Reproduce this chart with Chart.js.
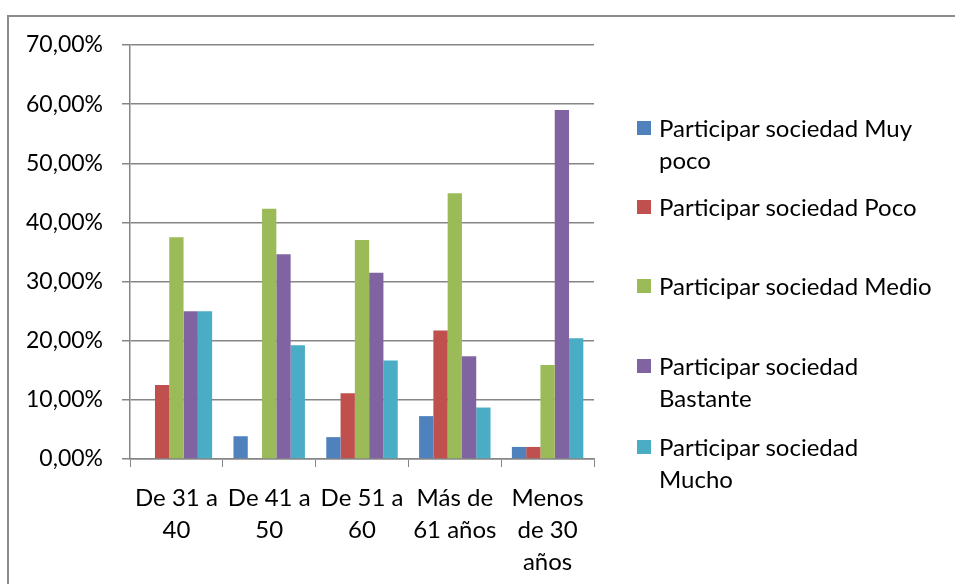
<!DOCTYPE html>
<html>
<head>
<meta charset="utf-8">
<script src="https://cdn.jsdelivr.net/npm/chart.js@4"></script>
<style>
  body { margin: 0; background: #fff; }
  #wrap { position: relative; width: 955px; height: 584px; overflow: hidden; font-family: Lato, sans-serif; }
  #frame { position: absolute; left: 7px; top: 15px; width: 1000px; height: 1000px;
           border-left: 2px solid #8c8c8c; border-top: 2px solid #8c8c8c; }
  canvas { position: absolute; left: 0; top: 0; }
  .leg { position: absolute; left: 637px; font-size: 24px; line-height: 32px; color: #000; }
  .leg i { position: absolute; left: 0; top: 9px; width: 14px; height: 14px; }
  .leg span { display: block; margin-left: 22px; white-space: nowrap; }
</style>
</head>
<body>
<div id="wrap">
  <div id="frame"></div>
  <canvas id="bar-chart" width="955" height="584"></canvas>
  <div id="legend"></div>
</div>
<script>
const categories = [['De 31 a', '40'], ['De 41 a', '50'], ['De 51 a', '60'], ['Más de', '61 años'], ['Menos', 'de 30', 'años']];
const seriesNames = ['Participar sociedad Muy poco', 'Participar sociedad Poco', 'Participar sociedad Medio', 'Participar sociedad Bastante', 'Participar sociedad Mucho'];
const muyPoco  = [0, 3.85, 3.70, 7.25, 2.04];
const poco     = [12.5, 0, 11.11, 21.74, 2.04];
const medio    = [37.5, 42.31, 37.04, 44.93, 15.9];
const bastante = [25, 34.62, 31.48, 17.39, 59.0];
const mucho    = [25, 19.23, 16.67, 8.70, 20.4];
const colors = ['#4F81BD', '#C0504D', '#9BBB59', '#8064A2', '#4BACC6'];
// legend rows: top of first line and wrapped lines
const legendRows = [
  { y: 112, lines: ['Participar sociedad Muy', 'poco'] },
  { y: 191, lines: ['Participar sociedad Poco'] },
  { y: 270, lines: ['Participar sociedad Medio'] },
  { y: 350, lines: ['Participar sociedad', 'Bastante'] },
  { y: 431, lines: ['Participar sociedad', 'Mucho'] },
];

const series = [muyPoco, poco, medio, bastante, mucho];
const axisGray = '#868686';

const legend = document.getElementById('legend');
legendRows.forEach((row, i) => {
  const d = document.createElement('div');
  d.className = 'leg';
  d.style.top = row.y + 'px';
  d.innerHTML = '<i style="background:' + colors[i] + '"></i>' + row.lines.map(l => '<span>' + l + '</span>').join('');
  legend.appendChild(d);
});

new Chart(document.getElementById('bar-chart'), {
  type: 'bar',
  data: {
    labels: categories,
    datasets: series.map((values, i) => ({
      label: seriesNames[i],
      data: values,
      backgroundColor: colors[i],
      borderWidth: 0,
      categoryPercentage: 0.77,
      barPercentage: 1.0,
    })),
  },
  options: {
    responsive: false,
    animation: false,
    layout: { padding: { top: 45, right: 361, left: 0, bottom: 0 } },
    plugins: {
      legend: { display: false },
      tooltip: { enabled: false },
    },
    scales: {
      x: {
        grid: { display: true, drawOnChartArea: false, color: axisGray, tickLength: 8, offset: true },
        border: { color: axisGray, width: 1.5 },
        ticks: { color: '#000', font: { family: 'Lato', size: 24, lineHeight: 1.34 }, maxRotation: 0, autoSkip: false, padding: 15 },
        afterFit: (scale) => { scale.height = 125; },
      },
      y: {
        min: 0,
        max: 70,
        grid: { color: axisGray, lineWidth: 1.5, tickLength: 8 },
        border: { color: axisGray, width: 1.5 },
        ticks: {
          stepSize: 10,
          color: '#000',
          font: { family: 'Lato', size: 23 },
          padding: 19,
          callback: (v) => v.toFixed(2).replace('.', ',') + '%',
        },
        afterFit: (scale) => { scale.width = 130; },
      },
    },
  },
});
</script>
</body>
</html>
